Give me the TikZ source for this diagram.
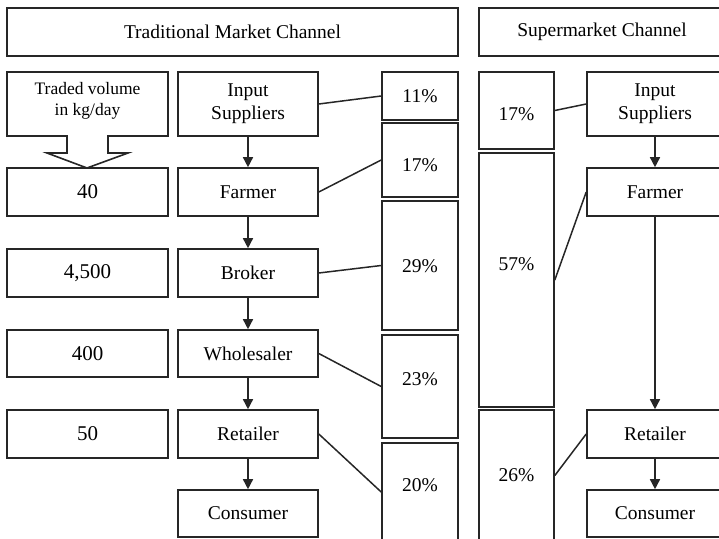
\documentclass[tikz,border=0pt]{standalone}
\usepackage{fontspec}
\setmainfont{Liberation Serif}
\usetikzlibrary{arrows.meta}
\newcommand\boxnode[7]{%
  \node[#1, minimum width={(#5-#3)*1pt}, minimum height={(#6-#4)*1pt}] (#2) at ({(#3+#5)/2},{(#4+#6)/2}) {#7};}
\begin{document}
\begin{tikzpicture}[x=1pt,y=-1pt,
  ink/.style={draw=black!85, line width=1.6pt},
  bx/.style={ink, rectangle, inner sep=0pt, align=center, text=black,
     font=\fontsize{19.5}{23}\selectfont},
  numbox/.style={bx, font=\fontsize{21}{24}\selectfont},
  txt/.style={inner sep=0pt, text=black, font=\fontsize{19.5}{23}\selectfont},
  link/.style={draw=black!85, line width=1.5pt},
  flow/.style={draw=black!85, line width=1.5pt, -{Triangle[width=10pt,length=10pt]}}]
\useasboundingbox (0,0) rectangle (719,538);
\clip (0,0) rectangle (719,538);
% titles
\boxnode{bx}{t1}{7}{8}{458}{56}{Traditional Market Channel}
\boxnode{bx}{t2}{479}{8}{725}{56}{Supermarket Channel}
% traded volume callout
\draw[draw=black!85, line width=1.6pt, line join=miter] (7,72) -- (168,72) -- (168,136) -- (108,136) -- (108,153) -- (128,153)
  -- (87,168) -- (47,153) -- (67,153) -- (67,136) -- (7,136) -- cycle;
\node[txt, align=center, font=\fontsize{17.5}{21}\selectfont] (vol) at (87.5,101) {Traded volume\\in kg/day};
% volumes
\boxnode{numbox}{v40}{7}{168}{168}{216}{40}
\boxnode{numbox}{v4500}{7}{249}{168}{297}{4,500}
\boxnode{numbox}{v400}{7}{330}{168}{377}{400}
\boxnode{numbox}{v50}{7}{410}{168}{458}{50}
% traditional chain
\boxnode{bx}{tIS}{178}{72}{318}{136}{Input\\Suppliers}
\boxnode{bx}{tF}{178}{168}{318}{216}{Farmer}
\boxnode{bx}{tB}{178}{249}{318}{297}{Broker}
\boxnode{bx}{tW}{178}{330}{318}{377}{Wholesaler}
\boxnode{bx}{tR}{178}{410}{318}{458}{Retailer}
\boxnode{bx}{tC}{178}{490}{318}{537}{Consumer}
% traditional percentages
\boxnode{bx}{p11}{382}{72}{458}{120}{}
\boxnode{bx}{p17}{382}{123}{458}{197}{}
\boxnode{bx}{p29}{382}{201}{458}{330}{}
\boxnode{bx}{p23}{382}{335}{458}{438}{}
\boxnode{bx}{p20}{382}{443}{458}{541}{}
\node[txt] (p11t) at (420,96) {11\%};
\node[txt] (p17t) at (420,165) {17\%};
\node[txt] (p29t) at (420,266) {29\%};
\node[txt] (p23t) at (420,379) {23\%};
\node[txt] (p20t) at (420,485) {20\%};
% supermarket percentages
\boxnode{bx}{s17}{479}{72}{554}{149}{}
\boxnode{bx}{s57}{479}{153}{554}{407}{}
\boxnode{bx}{s26}{479}{410}{554}{541}{}
\node[txt] (s17t) at (516.5,114) {17\%};
\node[txt] (s57t) at (516.5,264) {57\%};
\node[txt] (s26t) at (516.5,475) {26\%};
% supermarket chain
\boxnode{bx}{sIS}{587}{72}{723}{136}{Input\\Suppliers}
\boxnode{bx}{sF}{587}{168}{723}{216}{Farmer}
\boxnode{bx}{sR}{587}{410}{723}{458}{Retailer}
\boxnode{bx}{sC}{587}{490}{723}{537}{Consumer}
% flows
\draw[flow] (tIS) -- (tF);
\draw[flow] (tF) -- (tB);
\draw[flow] (tB) -- (tW);
\draw[flow] (tW) -- (tR);
\draw[flow] (tR) -- (tC);
\draw[flow] (sIS) -- (sF);
\draw[flow] (sF) -- (sR);
\draw[flow] (sR) -- (sC);
% links
\draw[link] (tIS.east) -- (p11.west);
\draw[link] (tF.east) -- (p17.west);
\draw[link] (tB.east) -- (p29.west);
\draw[link] (tW.east) -- (p23.west);
\draw[link] (tR.east) -- (p20.west);
\draw[link] (s17.east) -- (sIS.west);
\draw[link] (s57.east) -- (sF.west);
\draw[link] (s26.east) -- (sR.west);
\end{tikzpicture}
\end{document}
